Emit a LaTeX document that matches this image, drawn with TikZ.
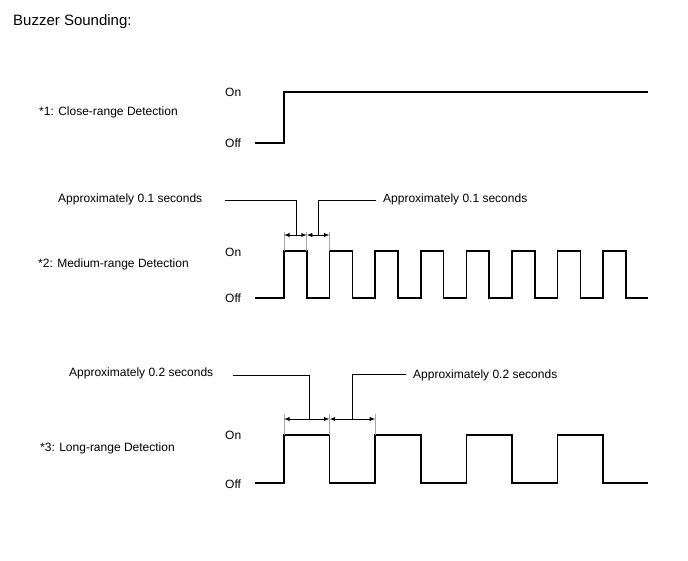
\documentclass[tikz,border=0pt]{standalone}
\usepackage{fontspec}
\setmainfont{Liberation Sans}
\usetikzlibrary{arrows.meta}
\begin{document}
\begin{tikzpicture}[x=1pt,y=-1pt,
  lbl/.style={anchor=base west,inner sep=0pt,font=\fontsize{12}{14}\selectfont},
  ttl/.style={anchor=base west,inner sep=0pt,font=\fontsize{15}{18}\selectfont},
  wave/.style={line width=1.5pt,line join=miter},
  leader/.style={line width=0.9pt},
  ext/.style={line width=0.8pt,gray!70},
  dim/.style={line width=0.9pt,{Latex[length=5.5pt,width=4.2pt]}-{Latex[length=5.5pt,width=4.2pt]}}]
\useasboundingbox (0,0) rectangle (688,560);
% title
\node[ttl] (title) at (13,25.5) {Buzzer Sounding:};
% section 1
\node[lbl] (l1) at (39,115) {*1: Close-range Detection};
\node[lbl] (on1) at (225,96) {On};
\node[lbl] (off1) at (225,147.5) {Off};
\draw[wave] (255,143) -- (284,143) -- (284,92) -- (648,92);
% section 2
\node[lbl] (l2) at (38,267.5) {*2: Medium-range Detection};
\node[lbl] (on2) at (225,256) {On};
\node[lbl] (off2) at (225,302.5) {Off};
\draw[wave] (255,298) \foreach \k in {0,...,7}{
   -- ({284+45.6*\k},298) -- ({284+45.6*\k},251) -- ({306.8+45.6*\k},251) -- ({306.8+45.6*\k},298)} -- (648,298);
\foreach \x/\n in {284/a,306.8/b,329.6/c}{
  \coordinate (e2\n) at (\x,232);
  \coordinate (f2\n) at (\x,251);
  \draw[ext] (e2\n) -- (f2\n);
}
\draw[dim] (284,235) -- (306.8,235);
\draw[dim] (306.8,235) -- (329.6,235);
\node[lbl] (t2a) at (58,202.3) {Approximately 0.1 seconds};
\node[lbl] (t2b) at (383,202) {Approximately 0.1 seconds};
\coordinate (p2a) at (296,235);
\coordinate (p2b) at (318,235);
\draw[leader] (225,200.5) -| (p2a);
\draw[leader] (376,200.5) -| (p2b);
% section 3
\node[lbl] (l3) at (40,451.5) {*3: Long-range Detection};
\node[lbl] (on3) at (225,439.5) {On};
\node[lbl] (off3) at (225,488) {Off};
\draw[wave] (255,483) \foreach \k in {0,...,3}{
   -- ({284+91.2*\k},483) -- ({284+91.2*\k},435) -- ({329.6+91.2*\k},435) -- ({329.6+91.2*\k},483)} -- (648,483);
\foreach \x/\n in {284/a,329.6/b,375.2/c}{
  \coordinate (e3\n) at (\x,414);
  \coordinate (f3\n) at (\x,435);
  \draw[ext] (e3\n) -- (f3\n);
}
\draw[dim] (284,419) -- (329.6,419);
\draw[dim] (329.6,419) -- (375.2,419);
\node[lbl] (t3a) at (69,376) {Approximately 0.2 seconds};
\node[lbl] (t3b) at (413,378.5) {Approximately 0.2 seconds};
\coordinate (p3a) at (309,419);
\coordinate (p3b) at (352.7,419);
\draw[leader] (233,375) -| (p3a);
\draw[leader] (406,374) -| (p3b);
\end{tikzpicture}
\end{document}
